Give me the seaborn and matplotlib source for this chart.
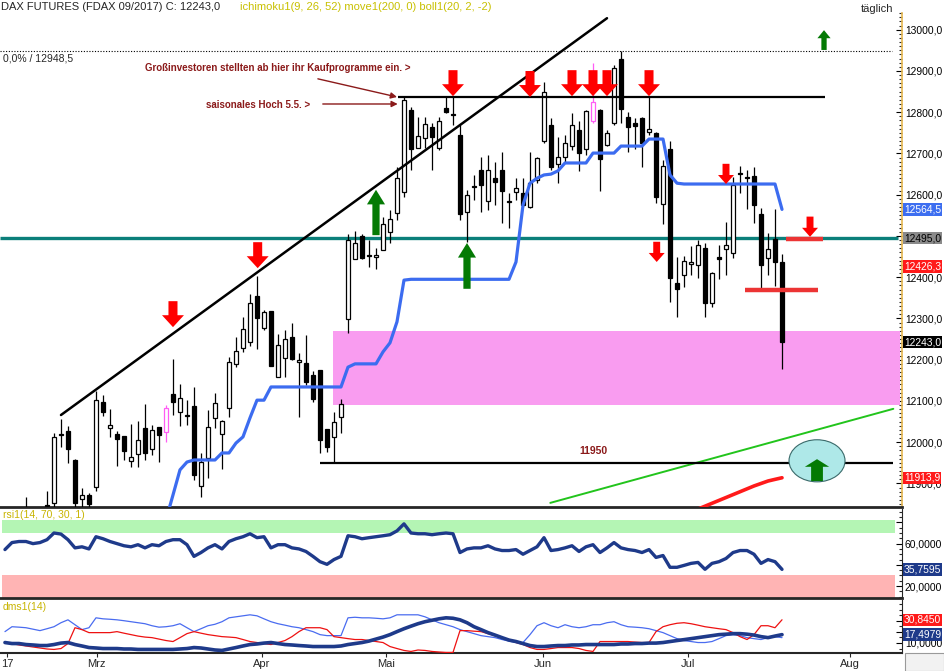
import numpy as np
import pandas as pd
import matplotlib
matplotlib.use('Agg')
import matplotlib.pyplot as plt
import matplotlib.transforms as mtransforms
from matplotlib.patches import Rectangle, Ellipse
import seaborn as sns

# FDAX 09/2017 daily candles, bar index 0 = 20.02.2017 (bars -2/-1 are off the chart)
first_bar = -3
nan = np.nan
opens = [11835, nan, nan,
         11846, 11853, 12020, 12027, 11957, 11862, 11872, 11892, 12098, 12035,
         12020, 12015, 11955, 11972, 12035, 11984, 12037, 12025, 12117, 12073,
         12066, 12088, 11894, 11962, 12059, 12020, 12083, 12190, 12228, 12243,
         12355, 12277, 12318, 12158, 12204, 12255, 12195, 12192, 12163, 12175,
         12032, 12013, 12061, 12299, 12444, 12500, 12454, 12449, 12466, 12510,
         12556, 12607, 12805, 12713, 12738, 12764, 12713, 12810, 12796, 12745,
         12558, 12621, 12660, 12585, 12641, 12660, 12585, 12607, 12604, 12570,
         12636, 12730, 12769, 12675, 12692, 12718, 12757, 12711, 12779, 12805,
         12721, 12774, 12929, 12788, 12774, 12786, 12752, 12750, 12578, 12711,
         12386, 12405, 12432, 12430, 12471, 12338, 12449, 12468, 12459, 12653,
         12643, 12645, 12553, 12447, 12493, 12437]
highs = [11867, nan, nan,
         11882, 12022, 12056, 12039, 11959, 11889, 11877, 12124, 12115, 12081,
         12027, 12015, 12044, 12052, 12093, 12042, 12037, 12090, 12202, 12141,
         12102, 12134, 11974, 12078, 12119, 12054, 12207, 12255, 12304, 12359,
         12403, 12321, 12318, 12262, 12272, 12289, 12216, 12260, 12173, 12175,
         12032, 12073, 12105, 12505, 12512, 12505, 12490, 12471, 12546, 12563,
         12667, 12839, 12813, 12788, 12788, 12774, 12788, 12837, 12837, 12769,
         12612, 12648, 12692, 12696, 12679, 12704, 12604, 12641, 12641, 12704,
         12692, 12873, 12786, 12740, 12745, 12798, 12779, 12805, 12919, 12808,
         12757, 12915, 12948.5, 12801, 12786, 12788, 12837, 12752, 12684, 12730,
         12449, 12452, 12476, 12490, 12483, 12413, 12478, 12534, 12643, 12670,
         12660, 12667, 12568, 12507, 12565, 12456]
lows = [11800, nan, nan,
        11800, 11835, 11988, 11950, 11830, 11835, 11835, 11882, 12064, 12013,
        11942, 11957, 11940, 11940, 11957, 11969, 11952, 12001, 12066, 12039,
        12042, 11908, 11867, 11913, 12035, 11935, 12061, 12182, 12219, 12233,
        12226, 12272, 12185, 12158, 12158, 12199, 12061, 12139, 12098, 11974,
        11976, 11952, 12022, 12265, 12444, 12444, 12425, 12420, 12466, 12483,
        12539, 12595, 12660, 12713, 12713, 12660, 12708, 12798, 12769, 12539,
        12485, 12587, 12558, 12563, 12575, 12532, 12519, 12587, 12570, 12568,
        12628, 12725, 12660, 12628, 12679, 12708, 12658, 12696, 12774, 12609,
        12718, 12769, 12774, 12704, 12711, 12667, 12745, 12580, 12529, 12340,
        12304, 12376, 12405, 12398, 12304, 12328, 12396, 12405, 12447, 12604,
        12565, 12532, 12374, 12405, 12379, 12178]
closes = [11825, nan, nan,
          11845, 12013, 12018, 11984, 11853, 11872, 11850, 12102, 12073, 12042,
          12008, 11979, 11964, 12005, 11974, 12030, 12018, 12083, 12098, 12107,
          12064, 11921, 11952, 12037, 12095, 12052, 12195, 12221, 12275, 12338,
          12301, 12316, 12185, 12236, 12250, 12202, 12199, 12146, 12105, 12005,
          11988, 12049, 12093, 12490, 12483, 12447, 12452, 12454, 12529, 12541,
          12641, 12830, 12711, 12742, 12772, 12740, 12779, 12801, 12794, 12553,
          12599, 12619, 12624, 12660, 12631, 12609, 12583, 12616, 12575, 12628,
          12689, 12849, 12667, 12692, 12725, 12769, 12701, 12803, 12825, 12687,
          12750, 12907, 12808, 12764, 12767, 12725, 12759, 12595, 12670, 12398,
          12372, 12439, 12437, 12478, 12338, 12410, 12444, 12478, 12624, 12651,
          12641, 12575, 12430, 12468, 12437, 12243]
pink_bars = [17, 78]

# ichimoku base line (blue)
kijun_start = 17
kijun = [11812, 11872, 11933, 11952, 11957, 11957, 11957, 11957, 11974, 11974,
         11998, 12013, 12059, 12102, 12102, 12134, 12134, 12134, 12134, 12134,
         12134, 12134, 12134, 12134, 12134, 12134, 12182, 12190, 12190, 12190,
         12190, 12219, 12241, 12292, 12393, 12395, 12395, 12395, 12395, 12395,
         12395, 12395, 12395, 12395, 12395, 12395, 12395, 12395, 12395, 12395,
         12437, 12575, 12628, 12640, 12648, 12650, 12658, 12677, 12677, 12677,
         12677, 12701, 12701, 12701, 12701, 12718, 12718, 12718, 12718, 12735,
         12735, 12735, 12648, 12628, 12626, 12626, 12626, 12626, 12626, 12626,
         12626, 12626, 12626, 12626, 12626, 12626, 12626, 12626, 12564.5]

# 200-day average (red, enters from below)
ma_start = 93
ma200 = [11838, 11845, 11852, 11859, 11866, 11873, 11880, 11887, 11894, 11900,
         11906, 11910, 11913.9]

# indicators, first value at bar -6
ind_start = -6
rsi = [54.4, 61, 62, 62, 60, 61, 63.7, 70, 69, 63.7,
       56, 57, 55, 66.5, 64.6, 62, 60, 58, 57, 59,
       56, 59, 58, 62, 63.7, 63.7, 59, 48, 51.6, 56,
       59, 55, 62, 64.6, 66.5, 69.3, 65.6, 66.5, 56, 59,
       59, 56, 55, 52.6, 48, 43, 40.5, 45, 48, 67.4,
       66.5, 64.6, 65.6, 66.5, 67.4, 68.4, 72, 78.6, 70, 69.3,
       69.3, 68.4, 69.3, 70, 69.3, 51.6, 55, 56, 56, 58,
       55, 53.5, 53.5, 54.4, 50, 53.5, 57, 65.6, 53.5, 54.4,
       56, 58, 52.6, 57, 59, 51.6, 56, 61, 56, 54.4,
       53.5, 51.6, 54.4, 47, 48.8, 37.7, 37.7, 39.5, 41.4, 42.3,
       35.8, 41.4, 43, 46, 51.6, 53.5, 53.5, 50, 41.4, 45, 43, 35.7595]
adx = [10.4, 9.5, 9.5, 8.6, 8.2, 7.7, 7.7, 8.6, 9.9, 10.4,
       8.6, 7.3, 5.9, 5.5, 5.0, 5.0, 5.0, 4.6, 4.6, 4.2,
       4.2, 4.2, 4.2, 4.2, 4.2, 4.6, 5.0, 5.9, 5.5, 4.6,
       3.7, 3.3, 4.6, 5.9, 7.3, 8.6, 9.1, 9.9, 10.4, 9.5,
       8.6, 8.2, 7.7, 7.3, 6.8, 6.8, 6.8, 6.8, 7.3, 8.6,
       9.5, 10.4, 11.7, 13.5, 15.3, 17.5, 20.2, 22.8, 25.1, 27.3,
       29.1, 30.4, 31.7, 32.6, 32.2, 30.8, 28.2, 24.6, 22.0, 19.3,
       17.1, 14.8, 12.6, 11.3, 9.5, 7.7, 6.8, 6.8, 7.3, 7.7,
       7.7, 8.2, 8.2, 8.6, 8.6, 8.6, 8.6, 8.6, 9.1, 9.1,
       9.5, 9.5, 9.9, 9.9, 10.4, 11.3, 12.2, 13.0, 13.9, 14.8,
       15.7, 16.6, 17.5, 17.9, 18.4, 18.4, 17.9, 17.1, 15.7, 14.8, 16.2, 17.4979]
di_plus = [20.2, 24.6, 24.2, 23.7, 22.4, 21.1, 22.8, 24.6, 28.2, 30.8,
           26.4, 22.0, 23.7, 32.6, 31.7, 31.3, 30.8, 30.0, 29.1, 28.2,
           27.3, 25.5, 24.2, 24.6, 25.5, 27.3, 23.7, 20.2, 22.8, 25.5,
           26.8, 29.1, 32.6, 33.5, 34.4, 35.3, 34.4, 31.7, 29.1, 27.3,
           26.0, 24.6, 23.7, 22.0, 20.2, 17.5, 16.6, 16.6, 16.6, 32.6,
           33.1, 32.6, 32.6, 32.2, 31.7, 32.6, 35.3, 35.3, 35.3, 35.3,
           33.5, 30.8, 28.2, 26.4, 24.6, 22.0, 20.2, 18.4, 16.6, 15.7,
           14.8, 13.1, 11.7, 10.4, 10.4, 17.5, 25.5, 28.2, 25.5, 23.7,
           26.4, 24.6, 23.7, 24.6, 26.4, 26.4, 28.2, 29.1, 26.4, 24.6,
           24.2, 23.7, 22.8, 21.1, 19.3, 16.6, 13.9, 12.2, 11.3, 10.4,
           10.4, 11.3, 13.9, 16.6, 17.5, 16.6, 14.8, 13.9, 13.1, 14.8, 15.7, 14.8]
di_minus = [10.4, 9.5, 8.2, 7.3, 6.4, 5.5, 4.6, 4.2, 5.0, 9.5,
            23.7, 22.0, 19.3, 19.3, 19.3, 19.3, 20.2, 18.8, 17.5, 16.2,
            15.3, 14.8, 13.5, 12.2, 11.3, 14.8, 18.4, 20.2, 18.8, 17.5,
            16.6, 15.7, 15.3, 14.8, 13.1, 11.3, 10.4, 9.5, 8.6, 10.4,
            12.2, 15.7, 20.2, 23.7, 23.7, 23.7, 22.0, 15.7, 14.8, 13.9,
            13.1, 13.1, 12.2, 11.3, 10.4, 6.8, 5.0, 3.3, 2.4, 3.7,
            3.3, 2.4, 1.9, 1.5, 1.5, 21.1, 21.1, 20.6, 20.2, 18.4,
            16.6, 14.8, 13.1, 10.4, 8.6, 5.9, 4.2, 4.2, 5.0, 5.9,
            5.9, 5.9, 5.0, 3.3, 2.4, 11.3, 11.3, 11.3, 11.3, 11.3,
            10.8, 10.4, 10.4, 20.2, 24.6, 26.4, 27.7, 28.2, 27.3, 26.0,
            24.6, 23.7, 22.8, 22.0, 19.3, 15.7, 13.1, 17.5, 25.5, 25.5, 23.7, 30.845]

month_pos = [-5.7, 7.1, 30.7, 48.4, 70.9, 91.6, 114.7]
month_lbl = ['17', 'Mrz', 'Apr', 'Mai', 'Jun', 'Jul', 'Aug']

# drawn chart objects (bar index, price)
trend_line = [(2.0, 12066), (80.0, 13028)]
green_line = [(71.9, 11853), (120.9, 12081)]
hi_line = (12838, 50.1, 111.1)
support = (11950, 39.0, 120.9)
teal_level = 12495
fib_level = 12948.5
zone = (40.9, 121.9, 12090, 12270)
red_marks = [(12492, 105.6, 110.9), (12369, 99.7, 110.1)]
red_big = [(18, 12279), (30.1, 12422), (58, 12839), (69, 12837), (75, 12839),
           (78, 12839), (80, 12839), (86, 12839)]
red_small = [(87.1, 12437), (97, 12626), (109, 12498)]
green_big = [(47, 12612, 12502), (60, 12483, 12372)]
green_small = [(111, 12999, 12951)]

W, H = 944, 671
XMIN, XMAX = -6.71, 122.14
LBL = 7.4

sns.set_style('white')
plt.rcParams['font.family'] = ['Liberation Sans', 'DejaVu Sans']

fig = plt.figure(figsize=(W / 100, H / 100), dpi=100)


def add_ax(top, bottom):
    return fig.add_axes([0, 1 - bottom / H, 902 / W, (bottom - top) / H])


ax = add_ax(13, 507)
ax_rsi = add_ax(509, 598)
ax_dms = add_ax(600, 653)

for a in (ax, ax_rsi, ax_dms):
    a.set_xlim(XMIN, XMAX)
    a.set_facecolor('white')
    for s in ('top', 'left'):
        a.spines[s].set_visible(False)
    a.yaxis.tick_right()
    a.tick_params(axis='y', direction='in', length=4, pad=2, labelsize=LBL,
                  colors='black', width=0.8)
    a.tick_params(axis='y', which='minor', direction='in', length=2, width=0.8)

ax.set_ylim(11843, 13040.6)
ax.spines['right'].set_color('#e6b850')
ax.spines['right'].set_linewidth(1.2)
ax.spines['bottom'].set_linewidth(2)
ax.set_xticks([])
price_ticks = list(range(11900, 13001, 100))
ax.set_yticks(price_ticks)
ax.set_yticks(range(11850, 13041, 10), minor=True)
# the 12500 label sits under the 12495 tag
ax.set_yticklabels(['' if v == 12500 else f'{v},0' for v in price_ticks])

# zone, levels, lines
ax.add_patch(Rectangle((zone[0], zone[2]), zone[1] - zone[0], zone[3] - zone[2],
                       fc='#f99cf0', ec='none', zorder=1))
ax.hlines(teal_level, XMIN, 121.6, colors='#0b7f7a', lw=2.4, zorder=2)
ax.hlines(fib_level, XMIN, 120.7, colors='black', lw=0.8, linestyles=(0, (1, 1.5)), zorder=2)
ax.text(XMIN + 0.4, fib_level - 6, '0,0% / 12948,5', fontsize=7.5, va='top', ha='left')

# candles
bars = np.arange(first_bar, first_bar + len(opens))
o, h, l, c = (np.array(v, float) for v in (opens, highs, lows, closes))
ok = ~np.isnan(o)
bars, o, h, l, c = bars[ok], o[ok], h[ok], l[ok], c[ok]
up = c >= o
is_pink = np.isin(bars, pink_bars)
face = np.where(up, 'white', 'black')
edge = np.where(is_pink, '#ff5cf5', 'black')
ax.vlines(bars, l, h, colors=edge, lw=0.9, zorder=3)
ax.bar(bars, np.maximum(np.abs(c - o), 2.5), bottom=np.minimum(o, c), width=0.7,
       color=face, edgecolor=edge, linewidth=0.9, zorder=4)

sns.lineplot(x=np.arange(kijun_start, kijun_start + len(kijun)), y=kijun, ax=ax,
             color='#3c6cf0', lw=2.3, zorder=5)
sns.lineplot(x=np.arange(ma_start, ma_start + len(ma200)), y=ma200, ax=ax,
             color='#ff1a1a', lw=2.6, zorder=5)

(x0, y0), (x1, y1) = trend_line
ax.plot([x0, x1], [y0, y1], color='black', lw=1.8, zorder=6)
(x0, y0), (x1, y1) = green_line
ax.plot([x0, x1], [y0, y1], color='#22c41c', lw=1.4, zorder=6)
ax.hlines(hi_line[0], hi_line[1], hi_line[2], colors='black', lw=1.6, zorder=6)
ax.hlines(support[0], support[1], support[2], colors='black', lw=1.6, zorder=6)
for lvl, xa, xb in red_marks:
    ax.hlines(lvl, xa, xb, colors='#ec3434', lw=3.2, zorder=6)
ax.text(78, 11979, '11950', fontsize=7.5, fontweight='bold', color='#8b1a1a',
        ha='center', va='center', zorder=7)


def block_arrow(x, tip, tail, color, hw, hl, tw):
    ax.annotate('', xy=(x, tip), xytext=(x, tail), zorder=8,
                arrowprops=dict(arrowstyle=f'simple,head_length={hl},head_width={hw},tail_width={tw}',
                                fc=color, ec='none', shrinkA=0, shrinkB=0, mutation_scale=10))


for x, p in red_big:
    block_arrow(x, p, p + 63, '#ff0000', 1.58, 0.86, 0.65)
for x, p in red_small:
    block_arrow(x, p, p + 49, '#ff0000', 1.15, 0.65, 0.5)
for x, p, t in green_big:
    block_arrow(x, p, t, '#047a04', 1.3, 1.05, 0.52)
for x, p, t in green_small:
    block_arrow(x, p, t, '#047a04', 0.95, 0.58, 0.38)

ax.add_patch(Ellipse((110, 11955), 8, 102, fc='#aee8e8', ec='#3a6a6a', lw=0.8, zorder=7))
block_arrow(110, 11959, 11906, '#047a04', 1.75, 0.55, 0.85)

# comments
ax.text(32.9, 12907, 'Großinvestoren stellten ab hier ihr Kaufprogramme ein. >', fontsize=7,
        fontweight='bold', color='#8b1a1a', ha='center', va='center', zorder=9)
ax.text(30.1, 12818, 'saisonales Hoch 5.5. >', fontsize=7, fontweight='bold',
        color='#8b1a1a', ha='center', va='center', zorder=9)
ax.annotate('', xy=(50.0, 12837), xytext=(38.7, 12881), zorder=9,
            arrowprops=dict(arrowstyle='-|>', color='#8b1a1a', lw=1.0, mutation_scale=9,
                            shrinkA=0, shrinkB=0))
ax.annotate('', xy=(50.1, 12820), xytext=(39.4, 12820), zorder=9,
            arrowprops=dict(arrowstyle='-|>', color='#8b1a1a', lw=1.0, mutation_scale=9,
                            shrinkA=0, shrinkB=0))


def value_tag(a, y, text, fc, tc='white'):
    tr = mtransforms.blended_transform_factory(a.transAxes, a.transData)
    a.text(1.002, y, text, transform=tr, ha='left', va='center', fontsize=LBL, color=tc,
           bbox=dict(boxstyle='square,pad=0.12', fc=fc, ec='none'), zorder=10, clip_on=False)


value_tag(ax, 12564.5, '12564,5', '#3d6ef0')
value_tag(ax, 12495, '12495,0', '#8a8a8a', 'black')
value_tag(ax, 12426.3, '12426,3', '#ff1a1a')
value_tag(ax, 12243, '12243,0', 'black')
value_tag(ax, 11913.9, '11913,9', '#ff1a1a')

# RSI panel
ind_x = np.arange(ind_start, ind_start + len(rsi))
ax_rsi.set_ylim(8.8, 92.6)
ax_rsi.fill_between([-6.4, 121.2], 70, 82, color='#b4f5b4', lw=0, zorder=1)
ax_rsi.fill_between([-6.4, 121.2], 8.8, 30, color='#ffb4b4', lw=0, zorder=1)
sns.lineplot(x=ind_x, y=rsi, ax=ax_rsi, color='#1e3a8a', lw=2.4, zorder=3)
ax_rsi.set_xticks([])
ax_rsi.set_yticks([20, 40, 60, 80])
ax_rsi.set_yticklabels(['20,0000', '', '60,0000', ''])
ax_rsi.set_yticks(range(10, 92, 5), minor=True)
ax_rsi.spines['bottom'].set_linewidth(2)
ax_rsi.spines['right'].set_linewidth(0.8)
ax_rsi.text(0.003, 0.93, 'rsi1(14, 70, 30, 1)', transform=ax_rsi.transAxes, fontsize=7.5,
            color='#c8b400', va='center')
value_tag(ax_rsi, 35.7595, '35,7595', '#1e3a8a')

# DMS panel
ax_dms.set_ylim(1.0, 48.6)
sns.lineplot(x=ind_x, y=di_plus, ax=ax_dms, color='#4a6cf0', lw=0.9, zorder=3)
sns.lineplot(x=ind_x, y=di_minus, ax=ax_dms, color='#ee1111', lw=0.9, zorder=3)
sns.lineplot(x=ind_x, y=adx, ax=ax_dms, color='#1e3a8a', lw=2.6, zorder=4)
ax_dms.set_yticks([10, 20, 30])
ax_dms.set_yticklabels(['10,0000', '', ''])
ax_dms.set_yticks(range(5, 48, 5), minor=True)
ax_dms.spines['bottom'].set_linewidth(1.5)
ax_dms.spines['right'].set_linewidth(0.8)
ax_dms.set_xticks(month_pos)
ax_dms.set_xticklabels(month_lbl)
ax_dms.tick_params(axis='x', direction='out', length=3, pad=1, labelsize=8, bottom=True)
ax_dms.text(0.003, 0.86, 'dms1(14)', transform=ax_dms.transAxes, fontsize=7.5,
            color='#c8b400', va='center')
value_tag(ax_dms, 30.845, '30,8450', '#ff1a1a')
value_tag(ax_dms, 17.4979, '17,4979', '#1e3a8a')

# header
fig.text(1 / W, 1 - 7 / H, 'DAX FUTURES (FDAX 09/2017) C: 12243,0', fontsize=8, va='center')
fig.text(240 / W, 1 - 7 / H, 'ichimoku1(9, 26, 52) move1(200, 0) boll1(20, 2, -2)',
         fontsize=8, va='center', color='#c8c000')
fig.text(877 / W, 1 - 9 / H, 'täglich', fontsize=8, va='center', ha='center')
fig.patches.append(Rectangle((905 / W, 0), 39 / W, 18 / H, transform=fig.transFigure,
                             fc='#f2f2f2', ec='#9a9a9a', lw=0.8))

fig.savefig('out.png', dpi=100)
